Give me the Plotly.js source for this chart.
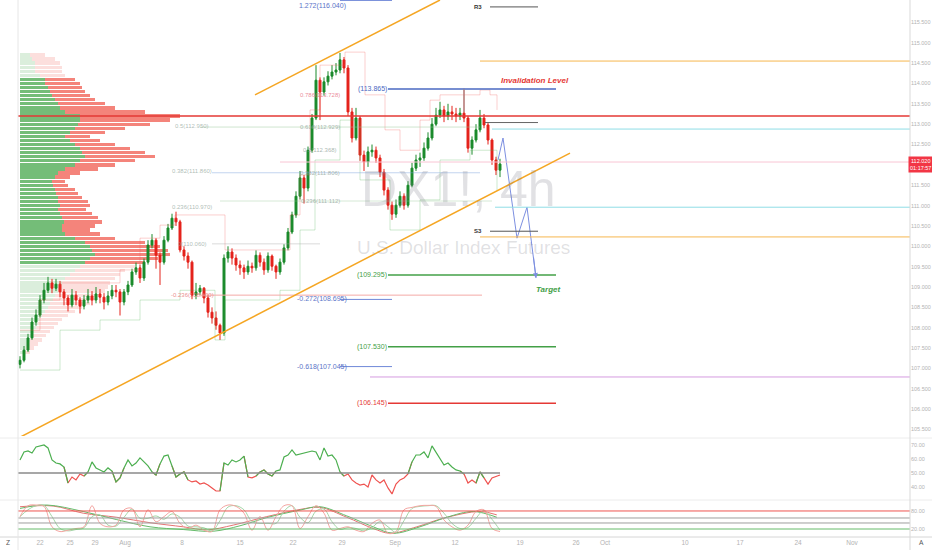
<!DOCTYPE html>
<html>
<head>
<meta charset="utf-8">
<script src="https://cdn.plot.ly/plotly-3.0.1.min.js"></script>
<style>html,body{margin:0;padding:0;background:#fff;}#chart{width:932px;height:550px;}</style>
</head>
<body>
<div id="chart"></div>
<script>
// ---------- DATA ----------
const firstOpen = 107.10;
const closes = [107.20,107.45,107.75,108.14,108.31,108.68,108.92,109.10,108.97,109.07,
108.88,108.73,108.56,108.80,108.68,108.53,108.68,108.78,108.68,108.83,
108.75,108.63,108.78,108.92,108.88,108.63,108.88,109.05,109.37,109.47,
109.22,109.61,110.03,110.15,109.78,109.61,110.15,110.45,110.69,110.60,
109.91,109.76,109.61,108.80,108.88,108.97,108.73,108.38,108.24,108.06,
107.87,109.71,109.86,109.71,109.54,109.47,109.37,109.51,109.47,109.78,
109.61,109.42,109.76,109.51,109.37,109.61,109.96,110.35,110.77,111.23,
111.68,111.43,112.36,113.15,114.08,113.79,114.04,114.18,114.28,114.33,
114.58,114.38,113.30,112.66,113.15,112.24,112.07,112.32,112.36,112.17,
111.82,111.38,111.01,110.79,111.01,111.23,111.01,111.50,111.92,112.12,
112.17,112.41,112.66,113.00,113.22,113.35,113.20,113.30,113.25,113.20,
113.27,113.15,112.41,112.61,112.86,113.15,112.98,112.61,112.12,111.87,
112.02];
const highs = [107.30,107.55,107.85,108.25,108.45,108.80,109.10,109.25,109.20,109.20,
109.15,108.95,108.80,108.95,108.90,108.75,108.80,108.95,108.90,109.00,
108.95,108.85,108.90,109.05,109.05,108.95,108.95,109.15,109.45,109.60,
109.55,109.70,110.15,110.30,110.20,109.85,110.25,110.55,110.80,110.85,
110.65,110.00,109.85,109.65,109.10,109.05,109.00,108.80,108.50,108.40,
108.10,109.80,110.00,109.95,109.80,109.65,109.55,109.65,109.60,109.90,
109.85,109.70,109.85,109.80,109.55,109.70,110.05,110.45,110.85,111.35,
111.85,111.75,112.45,113.25,114.45,114.15,114.15,114.30,114.45,114.50,
114.75,114.65,114.45,113.40,113.40,113.20,112.35,112.45,112.50,112.45,
112.25,111.90,111.45,111.10,111.15,111.35,111.30,111.60,112.05,112.25,
112.30,112.55,112.80,113.15,113.40,113.55,113.45,113.50,113.45,113.40,
113.40,113.87,113.20,112.70,113.00,113.35,113.25,113.05,112.65,112.20,
112.15];
const lows = [107.00,107.15,107.40,107.70,108.05,108.25,108.60,108.85,108.85,108.90,
108.75,108.55,108.40,108.50,108.55,108.35,108.45,108.60,108.55,108.60,
108.60,108.45,108.55,108.70,108.75,108.30,108.55,108.80,109.00,109.30,
109.10,109.15,109.55,109.95,109.45,109.05,109.55,110.10,110.40,110.50,
109.85,109.65,109.45,108.70,108.70,108.80,108.60,108.25,108.10,107.95,
107.70,107.80,109.60,109.55,109.40,109.30,109.20,109.30,109.35,109.40,
109.50,109.30,109.35,109.40,109.20,109.30,109.55,109.90,110.30,110.70,
111.15,111.05,111.35,112.30,113.10,113.10,113.70,113.95,114.10,114.20,
114.25,114.25,113.20,112.55,112.60,112.10,111.85,111.95,112.20,112.05,
111.70,111.25,110.90,110.65,110.70,110.95,110.90,110.95,111.45,111.85,
111.95,112.10,112.35,112.60,112.95,113.15,113.05,113.10,113.10,113.05,
113.10,113.05,112.30,112.25,112.55,112.80,112.90,112.50,112.00,111.75,
111.70];

// faint envelope (step) lines around price
const envUpX = [0,5,10,20,25,30,35,38.75,48.75,51.25,62.5,67.5,70,72.5,75,81.25,85,86.25,91.25,95,100,102.5,105,115,117.5,119.25];
const envUpY = [107.94,108.68,109.10,109.10,109.42,110.20,110.52,110.77,110.77,109.91,109.91,110.77,111.75,113.35,114.45,114.77,114.77,113.72,112.86,112.36,113.10,113.59,113.72,113.84,113.72,113.35];
const envLoX = [0,10,20,30,40,48.75,51.25,65,70,73.75,80,85,92.5,100,105,112.5,119.25];
const envLoY = [106.96,107.94,108.19,108.68,108.92,107.70,108.68,108.92,110.40,112.12,113.10,111.63,110.40,111.14,112.12,112.36,111.38];

// volume profile rows (price level, up volume, down volume)
const vpPrices = [114.7,114.6,114.5,114.4,114.3,114.2,114.1,114.0,113.9,113.8,
113.7,113.6,113.5,113.4,113.3,113.2,113.1,113.0,112.9,112.8,
112.7,112.6,112.5,112.4,112.3,112.2,112.1,112.0,111.9,111.8,
111.7,111.6,111.5,111.4,111.3,111.2,111.1,111.0,110.9,110.8,
110.7,110.6,110.5,110.4,110.3,110.2,110.1,110.0,109.9,109.8,
109.7,109.6,109.5,109.4,109.3,109.2,109.1,109.0,108.9,108.8,
108.7,108.6,108.5,108.4,108.3,108.2,108.1,108.0,107.9,107.8,
107.7,107.6,107.5,107.4];
const vpUp = [10,12,15,15,15,20,25,25,28,30,32,35,38,40,45,60,60,58,55,50,
45,50,55,60,62,65,60,55,45,38,35,32,33,35,36,38,38,40,38,40,
42,44,42,42,45,55,65,70,72,75,70,65,60,55,50,45,42,40,38,35,
33,30,28,25,22,20,18,16,14,12,10,8,6,4];
const vpDown = [15,23,25,27,27,25,30,35,34,35,38,40,47,55,80,100,90,72,50,35,
25,30,40,50,63,70,55,40,33,22,15,13,15,20,22,24,30,30,28,32,
36,38,33,28,35,40,60,70,76,75,68,60,55,50,50,50,48,48,47,45,
42,40,34,30,26,22,20,18,16,14,12,10,8,6];
const valueAreaHigh = 114.1, valueAreaLow = 109.6;

const rsi = [58.5,63.7,64.3,63.0,66.9,67.6,68.2,66.3,58.5,56.5,
55.9,53.9,43.5,47.4,45.5,49.4,48.0,50.7,57.2,53.3,
52.0,50.7,53.3,51.3,44.2,46.8,53.3,58.5,54.6,56.5,
59.8,57.2,54.6,50.7,48.7,55.9,61.0,61.7,54.6,47.4,
49.4,50.7,45.5,44.2,44.8,42.8,43.5,42.2,40.3,38.3,
38.3,56.5,55.2,58.5,57.2,58.5,61.0,47.4,46.8,48.0,
50.7,52.0,49.4,48.0,51.3,52.0,60.4,61.7,65.0,61.7,
62.4,63.0,63.7,64.3,63.7,58.5,66.3,61.0,61.7,58.5,
50.7,48.0,49.4,45.5,43.5,42.2,42.8,40.9,48.7,45.5,
43.5,45.5,40.3,36.4,42.8,45.5,46.8,49.4,57.2,61.7,
61.7,63.7,59.8,67.6,63.7,59.8,55.2,56.5,53.9,52.0,
51.3,49.4,43.5,45.5,43.5,50.7,46.8,42.8,46.8,48.0,
48.7];
const rsiMid = 50;

const stochK = [60,92,94,90,30,16,20,25,30,92,40,30,35,80,84,30,80,45,60,75,
40,25,35,20,16,80,94,90,70,20,60,20,60,92,92,25,60,92,70,20,
25,30,20,16,40,50,11,16,80,87,92,93,90,50,30,20,35,75,80,25,16];
const stochD = [60,80,92,93,60,25,18,22,27,60,65,35,32,58,82,55,55,62,52,68,
58,32,30,27,18,48,88,92,80,45,40,40,40,76,92,58,42,76,82,45,
22,28,25,18,28,45,30,14,48,84,90,92,92,70,40,25,28,55,78,52,20];
const slowRedX = [0,8.3,15.8,24.2,32.5,40.8,46.7,53.3,61.7,70,75,81.7,88.3,92.5,99.2,105.8,115,119.2];
const slowRedY = [89,91,70,58,42,30,21,35,60,81,87,58,25,11,30,55,75,65];
const slowGreenX = [0,6.7,15.8,24.2,32.5,40.8,48.3,55,61.7,70,75,81.7,88.3,93.3,100,106.7,113.3,119.2];
const slowGreenY = [84,94,75,51,30,22,17,33,57,79,89,62,30,11,30,58,75,58];
const stochLevels = [76.5, 55.9, 41.2, 23.5];

// projection path (blue zig-zag)
const projX = [119.5,120.75,124.25,126.75,129];
const projY = [112.12,112.66,110.20,110.96,109.22];

// key levels
const targetLevels = [113.865,109.295,107.530,106.145];
const targetLabels = ['(113.865)','(109.295)','(107.530)','(106.145)'];
const targetColors = ['#4a69c2','#43a047','#43a047','#e53935'];
const fibExt = [116.040,108.695,107.045];
const fibExtLabels = ['1.272(116.040)','-0.272(108.695)','-0.618(107.045)'];
const fibRet = [113.728,112.929,112.368,111.806,111.112];
const fibRetLabels = ['0.786(113.728)','0.618(112.929)','0.5(112.368)','0.382(111.806)','0.236(111.112)'];
const leftFib = [112.95,111.86,110.97,110.06,108.80];
const leftFibLabels = ['0.5(112.950)','0.382(111.860)','0.236(110.970)','0(110.060)','-0.236(108.800)'];
const pocLevel = 113.20;
const rightLevels = [114.55,112.88,112.07,110.96,110.23,106.79];
const pivotR3 = 115.88, pivotS3 = 110.37, pivotGray = 113.04;
const redZoneLevel = 108.80;
const lowerTrend = {x:[0,137.5], y:[105.31,112.29]};
const upperTrend = {x:[58.75,105], y:[113.72,116.05]};

const priceTicks = [105.5,106.0,106.5,107.0,107.5,108.0,108.5,109.0,109.5,110.0,110.5,111.0,111.5,112.5,113.0,113.5,114.0,114.5,115.0,115.5];
const tickVals = [5,12.5,18.75,26.25,40.5,55,68.25,80.5,93.75,108.75,125,139,146.25,166.25,180,194.5,208];
const tickText = ['22','25','29','Aug','8','15','22','29','Sep','12','19','26','Oct','10','17','24','Nov'];
const lastPrice = '112.020', countdown = '01:17:57';

// ---------- BUILD ----------
const idx = closes.map((_, i) => i);
const opens = closes.map((c, i) => i === 0 ? firstOpen : closes[i - 1]);
const profileScale = 0.25; // index units per volume unit

const inVA = p => p <= valueAreaHigh + 1e-9 && p >= valueAreaLow - 1e-9;
const traces = [];
traces.push({type:'bar', orientation:'h', y:vpPrices, x:vpUp.map(v=>v*profileScale), width:0.08,
  marker:{color:vpPrices.map(p=>inVA(p)?'rgba(92,178,96,0.85)':'rgba(92,178,96,0.22)'), line:{width:0}},
  xaxis:'x', yaxis:'y', hoverinfo:'skip', showlegend:false});
traces.push({type:'bar', orientation:'h', y:vpPrices, x:vpDown.map(v=>v*profileScale), width:0.08,
  marker:{color:vpPrices.map(p=>inVA(p)?'rgba(242,110,100,0.85)':'rgba(242,110,100,0.22)'), line:{width:0}},
  xaxis:'x', yaxis:'y', hoverinfo:'skip', showlegend:false});

traces.push({type:'scatter', mode:'lines', x:envUpX, y:envUpY, line:{color:'rgba(239,83,80,0.28)', width:1, shape:'hv'}, xaxis:'x', yaxis:'y', hoverinfo:'skip', showlegend:false});
traces.push({type:'scatter', mode:'lines', x:envLoX, y:envLoY, line:{color:'rgba(76,175,80,0.28)', width:1, shape:'hv'}, xaxis:'x', yaxis:'y', hoverinfo:'skip', showlegend:false});

traces.push({type:'candlestick', x:idx, open:opens, high:highs, low:lows, close:closes,
  increasing:{line:{color:'#1a8a2b', width:1}, fillcolor:'#1a8a2b'},
  decreasing:{line:{color:'#e4221b', width:1}, fillcolor:'#e4221b'},
  whiskerwidth:0, xaxis:'x', yaxis:'y', hoverinfo:'skip', showlegend:false});

traces.push({type:'scatter', mode:'lines', x:projX, y:projY, line:{color:'#7c8fe0', width:1},
  xaxis:'x', yaxis:'y', hoverinfo:'skip', showlegend:false});

// RSI split colours
const n = rsi.length;
const rsiG = rsi.map((v,i)=> (v>=rsiMid || (i>0&&rsi[i-1]>=rsiMid) || (i<n-1&&rsi[i+1]>=rsiMid)) ? v : null);
const rsiR = rsi.map((v,i)=> (v<rsiMid || (i>0&&rsi[i-1]<rsiMid) || (i<n-1&&rsi[i+1]<rsiMid)) ? v : null);
traces.push({type:'scatter', mode:'lines', x:idx, y:rsiR, line:{color:'#ef5350', width:1.2}, xaxis:'x', yaxis:'y2', hoverinfo:'skip', showlegend:false, connectgaps:false});
traces.push({type:'scatter', mode:'lines', x:idx, y:rsiG, line:{color:'#4caf50', width:1.2}, xaxis:'x', yaxis:'y2', hoverinfo:'skip', showlegend:false, connectgaps:false});

const stochX = stochK.map((_, j) => j * 2);
traces.push({type:'scatter', mode:'lines', x:slowRedX, y:slowRedY, line:{color:'#e57373', width:1, shape:'spline'}, xaxis:'x', yaxis:'y3', hoverinfo:'skip', showlegend:false});
traces.push({type:'scatter', mode:'lines', x:slowGreenX, y:slowGreenY, line:{color:'#66bb6a', width:1, shape:'spline'}, xaxis:'x', yaxis:'y3', hoverinfo:'skip', showlegend:false});
traces.push({type:'scatter', mode:'lines', x:stochX, y:stochD, line:{color:'#a5d6a7', width:1, shape:'spline'}, xaxis:'x', yaxis:'y3', hoverinfo:'skip', showlegend:false});
traces.push({type:'scatter', mode:'lines', x:stochX, y:stochK, line:{color:'#f4a6a2', width:1, shape:'spline'}, xaxis:'x', yaxis:'y3', hoverinfo:'skip', showlegend:false});

// ---------- SHAPES ----------
const shapes = [];
const hl = (x0,x1,y,color,width,yref) => shapes.push({type:'line', xref:'x', yref:yref||'y', x0, x1, y0:y, y1:y, line:{color, width}});
const rightColors = ['#f6b64e','#8fdde6','#f9c6d4','#8fdde6','#f6b64e','#d59be0'];
const rightStarts = [115,118,65,118.75,115,87.5];
rightLevels.forEach((p,k)=>hl(rightStarts[k],222.5,p,rightColors[k],1));
hl(45,115,fibRet[1],'rgba(150,200,150,0.45)',1);
hl(48,115,fibRet[3],'rgba(120,160,220,0.45)',1);
hl(50,118,fibRet[4],'rgba(150,200,150,0.4)',1);
hl(48,75,leftFib[3],'rgba(160,160,160,0.4)',1);
hl(45,115.5,redZoneLevel,'#f4aaa6',1);
hl(-0.5,222.5,pocLevel,'#e53935',1.5);
targetLevels.forEach((p,k)=>hl(92,134,p,targetColors[k],1.5));
fibExt.forEach(p=>hl(80,93,p,'#6f88d8',1));
hl(117.5,129.5,pivotR3,'#555555',1);
hl(117.5,129.5,pivotS3,'#555555',1);
hl(116.25,129.5,pivotGray,'#666666',1);
shapes.push({type:'line', xref:'x', yref:'y', x0:111, x1:111, y0:113.30, y1:targetLevels[0], line:{color:'#999', width:1}});
shapes.push({type:'line', xref:'x', yref:'y', x0:lowerTrend.x[0], x1:lowerTrend.x[1], y0:lowerTrend.y[0], y1:lowerTrend.y[1], line:{color:'#f5a623', width:1.5}});
shapes.push({type:'line', xref:'x', yref:'y', x0:upperTrend.x[0], x1:upperTrend.x[1], y0:upperTrend.y[0], y1:upperTrend.y[1], line:{color:'#f5a623', width:1.5}});
shapes.push({type:'line', xref:'x', yref:'y2', x0:-0.5, x1:120, y0:rsiMid, y1:rsiMid, line:{color:'#8a8a8a', width:1.5}});
const stochColors = ['#ef5350','#9e9e9e','#9e9e9e','#66bb6a'];
stochLevels.forEach((v,k)=>shapes.push({type:'line', xref:'paper', yref:'y3', x0:0.0193, x1:0.9764, y0:v, y1:v, line:{color:stochColors[k], width:1}}));
[1-438/550, 1-500/550].forEach(y=>shapes.push({type:'line', xref:'paper', yref:'paper', x0:0, x1:1, y0:y, y1:y, line:{color:'#ececec', width:1}}));
shapes.push({type:'line', xref:'paper', yref:'paper', x0:0, x1:1, y0:1-537/550, y1:1-537/550, line:{color:'#d6d6d6', width:1}});
shapes.push({type:'line', xref:'paper', yref:'paper', x0:910/932, x1:910/932, y0:0, y1:1, line:{color:'#d9d9d9', width:1}});
shapes.push({type:'line', xref:'paper', yref:'paper', x0:18/932, x1:18/932, y0:0, y1:1, line:{color:'#e6e6e6', width:1}});

// ---------- ANNOTATIONS ----------
const ann = [];
const FONT = 'Liberation Sans, Arial, sans-serif';
const txt = (x,y,text,color,size,extra) => ann.push(Object.assign({xref:'x', yref:'y', x, y, text, showarrow:false, font:{color, size:size||7, family:FONT}, xanchor:'center', yanchor:'middle'}, extra||{}));
targetLevels.forEach((p,k)=>txt(88,p,targetLabels[k],targetColors[k],7));
fibExt.forEach((p,k)=>txt(75.5,p,fibExtLabels[k],'#5a74c8',7, k===0?{yanchor:'top'}:{}));
fibRet.forEach((p,k)=>txt(75,p,fibRetLabels[k], k===0?'rgba(230,110,130,0.8)':'rgba(140,160,150,0.75)',6));
leftFib.forEach((p,k)=>txt(43,p,leftFibLabels[k], k===4?'rgba(230,110,110,0.8)':'rgba(140,160,150,0.7)',6));
txt(128.75,114.08,'<b><i>Invalidation Level</i></b>','#e53935',8);
txt(132,108.95,'<b><i>Target</i></b>','#43a047',8);
txt(114.5,pivotR3,'<b>R3</b>','#333',6);
txt(114.5,pivotS3,'<b>S3</b>','#333',6);
ann.push({xref:'x', yref:'y', x:projX[4], y:projY[4], ax:projX[3]+1.6, ay:projY[3]-1.2, axref:'x', ayref:'y', showarrow:true, arrowhead:2, arrowsize:1, arrowwidth:1, arrowcolor:'#7c8fe0', text:''});
ann.push({xref:'paper', yref:'paper', x:458/932, y:1-189/550, text:'DX1!, 4h', showarrow:false, font:{size:50, color:'rgba(120,120,130,0.22)', family:FONT}, xanchor:'center', yanchor:'middle'});
ann.push({xref:'paper', yref:'paper', x:463/932, y:1-247/550, text:'U.S. Dollar Index Futures', showarrow:false, font:{size:19, color:'rgba(120,120,130,0.22)', family:FONT}, xanchor:'center', yanchor:'middle'});
ann.push({xref:'paper', yref:'y', x:920.5/932, y:112.02, text:lastPrice+'<br>'+countdown, showarrow:false, bgcolor:'#f23645', font:{size:5.5, color:'#ffffff', family:FONT}, xanchor:'center', yanchor:'middle', borderpad:1});
ann.push({xref:'paper', yref:'paper', x:8/932, y:1-542/550, text:'Z', showarrow:false, font:{size:7, color:'#555'}, xanchor:'center', yanchor:'middle'});
ann.push({xref:'paper', yref:'paper', x:921/932, y:1-542/550, text:'A', showarrow:false, font:{size:7, color:'#555'}, xanchor:'center', yanchor:'middle'});

const axFont = {size:5.5, color:'#b3b3b3', family:FONT};
const layout = {
  width:932, height:550, margin:{l:0, r:0, t:0, b:0}, paper_bgcolor:'#ffffff', plot_bgcolor:'#ffffff',
  barmode:'stack', bargap:0, showlegend:false, hovermode:false, dragmode:false,
  xaxis:{domain:[18/932, 910/932], range:[-0.5, 222.5], anchor:'y3', showgrid:false, zeroline:false, showline:false,
    tickvals:tickVals, ticktext:tickText, tickfont:{size:6.5, color:'#b3b3b3', family:FONT}, ticks:'', rangeslider:{visible:false}, fixedrange:true},
  yaxis:{domain:[1-436/550, 1], range:[105.34, 116.05], side:'right', anchor:'x', showgrid:false, zeroline:false,
    tickvals:priceTicks, tickformat:'.3f', tickfont:axFont, ticks:'', fixedrange:true},
  yaxis2:{domain:[1-500/550, 1-440/550], range:[32.45, 71.45], side:'right', anchor:'x', showgrid:false, zeroline:false,
    tickvals:[68,59,50,41], ticktext:['70.00','60.00','50.00','40.00'], tickfont:axFont, ticks:'', fixedrange:true},
  yaxis3:{domain:[1-537/550, 1-502/550], range:[0, 102.9], side:'right', anchor:'x', showgrid:false, zeroline:false,
    tickvals:[76.5, 23.5], ticktext:['80.00','20.00'], tickfont:axFont, ticks:'', fixedrange:true},
  shapes, annotations:ann
};
Plotly.newPlot('chart', traces, layout, {staticPlot:true, displayModeBar:false});
</script>
</body>
</html>
